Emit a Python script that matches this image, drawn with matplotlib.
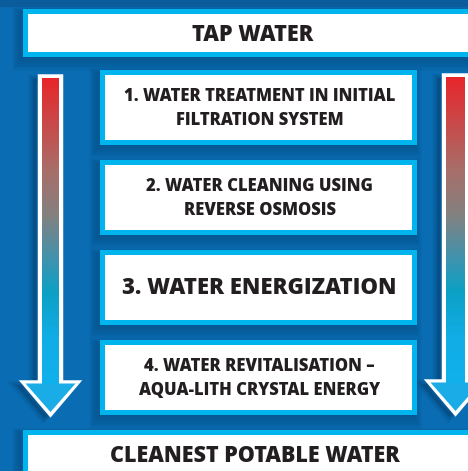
import numpy as np
import matplotlib
matplotlib.use("Agg")
from matplotlib import pyplot as plt
from matplotlib.patches import Rectangle, Polygon
from matplotlib.colors import LinearSegmentedColormap

# texts
top_label = "TAP WATER"
bottom_label = "CLEANEST POTABLE WATER"
step_labels = ["1. WATER TREATMENT IN INITIAL\nFILTRATION SYSTEM",
               "2. WATER CLEANING USING\nREVERSE OSMOSIS",
               "3. WATER ENERGIZATION",
               "4. WATER REVITALISATION \u2013\nAQUA-LITH CRYSTAL ENERGY"]
step_sizes = [12.0, 12.0, 15.9, 12.0]

# layout (pixels)
step_top = [70, 160, 250, 340]
step_h = 75
step_x0, step_x1 = 100, 417

bg = "#0a6db3"
cyan = "#00b4ee"
txt = "#231f20"

plt.rcParams['font.family'] = ['Open Sans', 'DejaVu Sans']

fig = plt.figure(figsize=(4.68, 4.71), dpi=100)
ax = fig.add_axes([0, 0, 1, 1])
ax.set_xlim(0, 468)
ax.set_ylim(471, 0)
ax.axis("off")
fig.patch.set_facecolor(bg)

# darker band at the very top
ax.add_patch(Rectangle((0, 0), 468, 6, color="#0a5c9c", zorder=0))


def shadow(x, y, w, h):
    for i in range(8):
        g = 8 - i
        ax.add_patch(Rectangle((x - 3 - g, y + 2 - g * 0.5), w + 2 * g, h + 2 * g,
                               color="#06406e", alpha=0.06, lw=0, zorder=1))


def box(x, y, w, h):
    shadow(x, y, w, h)
    ax.add_patch(Rectangle((x, y), w, h, color=cyan, lw=0, zorder=2))
    ax.add_patch(Rectangle((x + 5, y + 5), w - 10, h - 10, color="white", lw=0, zorder=3))


# top and bottom boxes (run off the edge)
box(23, 9, 470, 48)
ax.text(253, 35, top_label, ha="center", va="center", fontsize=15.6,
        fontweight=800, color=txt, zorder=4)
box(23, 430, 470, 60)
ax.text(255, 456, bottom_label, ha="center", va="center", fontsize=15.5,
        fontweight=800, color=txt, zorder=4)

for lab, y, fs in zip(step_labels, step_top, step_sizes):
    box(step_x0, y, step_x1 - step_x0, step_h)
    ax.text((step_x0 + step_x1) / 2 + 1, y + step_h / 2 + 1, lab, ha="center",
            va="center", fontsize=fs, fontweight=800, color=txt,
            linespacing=1.58, zorder=4)

# arrows
cmap = LinearSegmentedColormap.from_list("arr", [
    (0.0, "#e8262b"), (0.3, "#a96e69"), (0.45, "#838180"),
    (0.6, "#3c94b0"), (0.7, "#0ca0c4"), (0.85, "#10ade6"), (1.0, "#10b1ec")])
grad = np.linspace(0, 1, 256).reshape(-1, 1)


def arrow(xc, half, top, base, hw, tip):
    pts = [(xc - half, top), (xc + half, top), (xc + half, base), (xc + hw, base),
           (xc, tip), (xc - hw, base), (xc - half, base)]
    # shadow
    for i in range(6):
        g = 6 - i
        ax.add_patch(Polygon([(px - 4 - g * 0.6, py + 3) for px, py in pts],
                             closed=True, color="#06406e", alpha=0.08, lw=g, zorder=1))
    ax.add_patch(Polygon(pts, closed=True, fc="white", ec="white", lw=2.5,
                         joinstyle="miter", zorder=2))
    head = [(xc + hw - 3, base + 1.5), (xc, tip - 3), (xc - hw + 3, base + 1.5)]
    ax.add_patch(Polygon(head, closed=True, fc="#19ace6", lw=0, zorder=3))
    ax.imshow(grad, cmap=cmap, aspect="auto", zorder=3,
              extent=(xc - half + 2.5, xc + half - 2.5, base + 2, top + 2.5))


arrow(50.5, 11, 76, 382, 28, 415)
arrow(455.5, 12, 75, 381, 28, 414)

fig.savefig("out.png", dpi=100, facecolor=bg)
